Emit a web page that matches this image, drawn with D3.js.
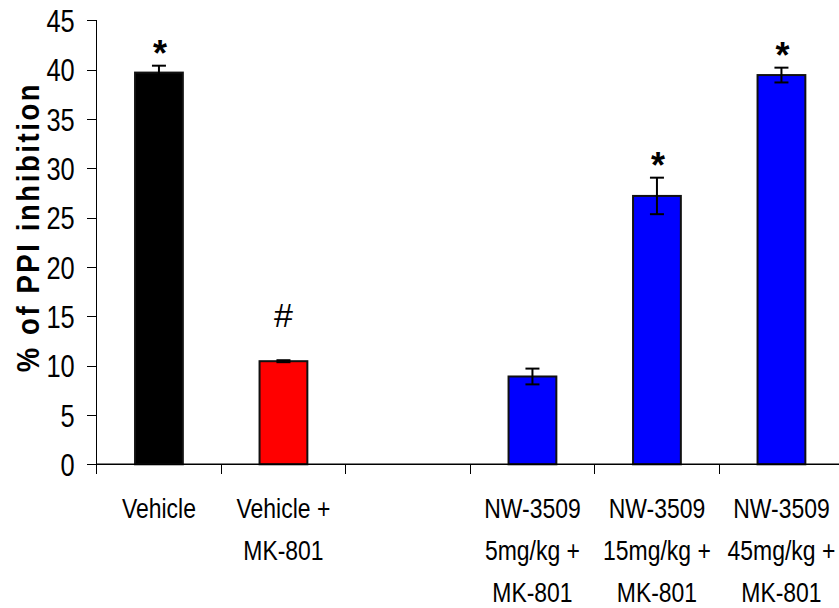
<!DOCTYPE html>
<html>
<head>
<meta charset="utf-8">
<script src="https://cdn.jsdelivr.net/npm/d3@7"></script>
<style>
  html, body { margin: 0; padding: 0; background: #fff; }
  svg { display: block; }
</style>
</head>
<body>
<svg id="chart" width="839" height="608"></svg>
<script>
// ---- data ----
const categoryIds = ["c1", "c2", "c3", "c4", "c5", "c6"];
const categoryLabels = [
  ["Vehicle"],
  ["Vehicle +", "MK-801"],
  [],
  ["NW-3509", "5mg/kg +", "MK-801"],
  ["NW-3509", "15mg/kg +", "MK-801"],
  ["NW-3509", "45mg/kg +", "MK-801"]
];
const values = [39.7, 10.45, null, 8.9, 27.2, 39.45];
const errors = [0.7, 0.1, null, 0.8, 1.85, 0.75];
const barColors = ["#000000", "#FF0000", null, "#0000FF", "#0000FF", "#0000FF"];
const marks = ["*", "#", "", "", "*", "*"];
const yTicks = [0, 5, 10, 15, 20, 25, 30, 35, 40, 45];
const yTitle = "% of PPI inhibition";

// ---- layout ----
const SANS = "'Liberation Sans', Arial, sans-serif";
const CONDENSE = 0.82; // Arial Narrow look
const svg = d3.select("#chart");

const x = d3.scaleBand().domain(categoryIds).range([96.7, 843.7]).padding(0);
const y = d3.scaleLinear().domain([0, 45]).range([464.3, 20.3]);
const barW = x.bandwidth() * 0.4;

const rows = categoryIds.map((id, i) => ({
  id, v: values[i], e: errors[i], c: barColors[i], m: marks[i], lines: categoryLabels[i]
}));
const dataRows = rows.filter(d => d.v != null);

function narrowText(parent, tx, ty, str, size, anchor) {
  parent.append("g").attr("transform", `translate(${tx},${ty}) scale(${CONDENSE},1)`)
    .append("text").attr("x", 0).attr("y", 0)
    .attr("text-anchor", anchor).attr("font-family", SANS)
    .attr("font-size", size).attr("fill", "#000").text(str);
}

// bars
svg.append("g").selectAll("rect").data(dataRows).join("rect")
  .attr("x", d => x(d.id) + x.bandwidth() / 2 - barW / 2 + 1)
  .attr("y", d => y(d.v))
  .attr("width", barW - 2)
  .attr("height", d => y(0) - y(d.v))
  .attr("fill", d => d.c)
  .attr("stroke", "#111")
  .attr("stroke-width", 2);

// error bars
const eg = svg.append("g").attr("stroke", "#000").attr("stroke-width", 2);
dataRows.forEach(d => {
  const cx = x(d.id) + x.bandwidth() / 2;
  eg.append("line").attr("x1", cx).attr("x2", cx).attr("y1", y(d.v - d.e)).attr("y2", y(d.v + d.e));
  [d.v - d.e, d.v + d.e].forEach(t => {
    eg.append("line").attr("x1", cx - 7).attr("x2", cx + 7).attr("y1", y(t)).attr("y2", y(t));
  });
});

// significance marks
dataRows.filter(d => d.m).forEach(d => {
  const cx = x(d.id) + x.bandwidth() / 2;
  const top = y(d.v + d.e);
  if (d.m === "*") {
    svg.append("text").attr("x", cx + 1).attr("y", top)
      .attr("text-anchor", "middle").attr("font-family", SANS)
      .attr("font-weight", "bold").attr("font-size", 36).text(d.m);
  } else {
    svg.append("text").attr("x", cx).attr("y", top - 33)
      .attr("text-anchor", "middle").attr("font-family", SANS)
      .attr("font-size", 34).text(d.m);
  }
});

// y axis
const yAxis = d3.axisLeft(y).tickValues(yTicks).tickSize(10).tickPadding(13).tickFormat(d3.format("d"));
const gy = svg.append("g").attr("transform", "translate(96.7,0)").call(yAxis);
gy.select(".domain").remove();
gy.selectAll(".tick line").attr("stroke", "#000").attr("shape-rendering", "crispEdges");
gy.selectAll(".tick text")
  .attr("font-family", SANS).attr("font-size", 31).attr("fill", "#000")
  .attr("x", 0).attr("dy", "0.36em")
  .attr("transform", `translate(-22,0) scale(${CONDENSE},1)`);
svg.append("line").attr("x1", 96.7).attr("x2", 96.7).attr("y1", y(45)).attr("y2", y(0) + 10)
  .attr("stroke", "#000").attr("shape-rendering", "crispEdges");

// x axis
const xBoundaries = categoryIds.map(id => x(id));
svg.append("line").attr("x1", 96.7).attr("x2", 839).attr("y1", y(0)).attr("y2", y(0))
  .attr("stroke", "#000").attr("stroke-width", 1.5);
svg.append("g").selectAll("line").data(xBoundaries).join("line")
  .attr("x1", d => d).attr("x2", d => d).attr("y1", y(0)).attr("y2", y(0) + 10)
  .attr("stroke", "#000").attr("shape-rendering", "crispEdges");

// category labels
const lg = svg.append("g");
rows.forEach(d => {
  const cx = x(d.id) + x.bandwidth() / 2;
  d.lines.forEach((ln, j) => narrowText(lg, cx, 518 + j * 42, ln, 28, "middle"));
});

// y title
svg.append("g").attr("transform", `translate(39,227) rotate(-90) scale(0.86,1)`)
  .append("text")
  .attr("text-anchor", "middle")
  .attr("font-family", SANS).attr("font-weight", "bold").attr("font-size", 32)
  .attr("letter-spacing", 3)
  .text(yTitle);
</script>
</body>
</html>
